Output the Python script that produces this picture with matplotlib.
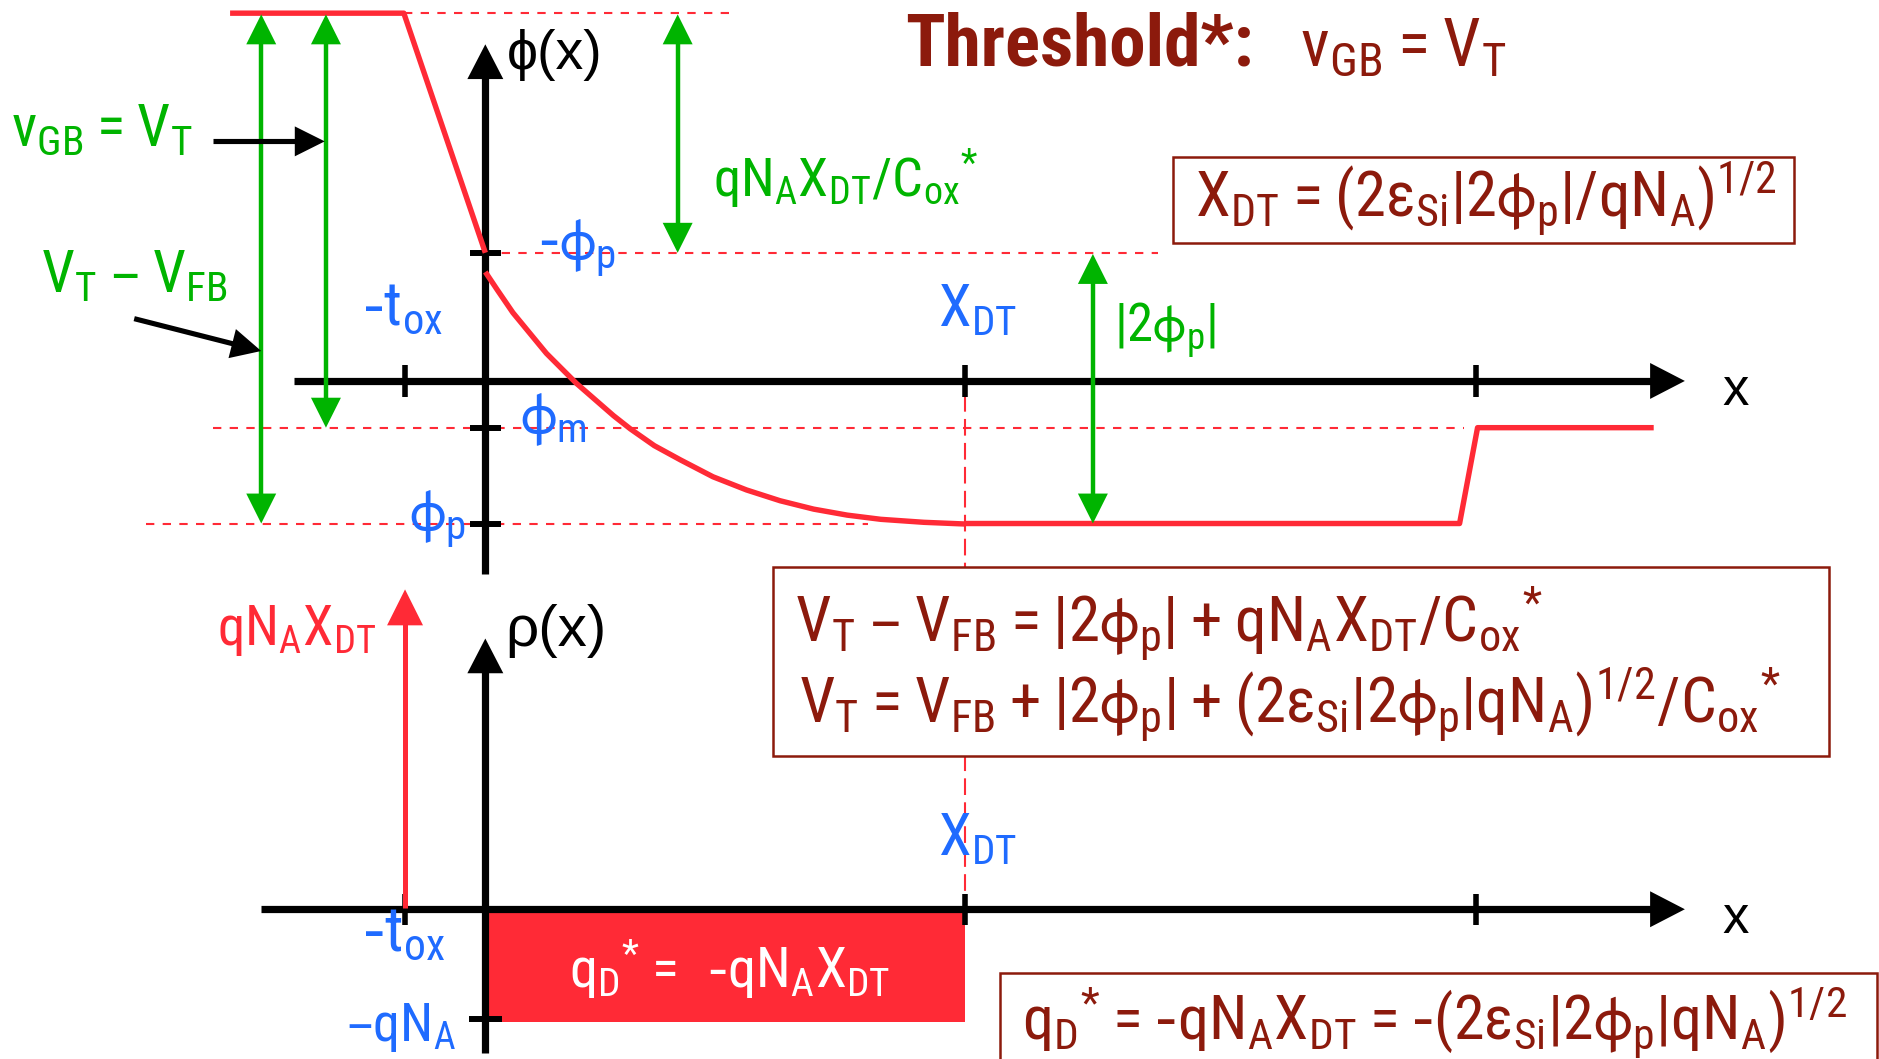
import numpy as np
import matplotlib
matplotlib.use('Agg')
import matplotlib.pyplot as plt
from matplotlib.patches import Polygon, Rectangle

NARROW = ['Roboto Condensed', 'DejaVu Sans Condensed', 'Liberation Sans', 'DejaVu Sans']
WIDE = ['Liberation Sans', 'DejaVu Sans']
plt.rcParams['font.family'] = NARROW
plt.rcParams['mathtext.fontset'] = 'dejavusans'
plt.rcParams['mathtext.default'] = 'regular'

RED = '#ff2a36'
GREEN = '#00b400'
BLUE = '#1f6bff'
DARK = '#8c1a0c'

# ---- diagram data (page units, y pointing down) ----
# marks on both x axes: -t_ox, 0, X_DT, end of body
x_marks = [338, 405, 805, 1232]
# levels on the phi(x) axis: gate, -phi_p, phi_m, phi_p
phi_levels = [11, 211, 357, 437]
phi_axis_y = 318
rho_axis_y = 759

# potential profile: gate/oxide, depletion region, neutral body
gate_x = [192, 337, 405]
gate_y = [11, 11, 211]
dep_x = [405, 415, 428, 442, 456, 481, 512, 526, 546, 568, 595, 623, 651,
         679, 707, 735, 771, 805]
dep_y = [227, 242, 261, 278, 295, 320, 347, 358, 372, 384, 398, 409, 418,
         425, 430, 433.5, 436, 437.4]
body_x = [805, 1218, 1233, 1380]
body_y = [437, 437, 357, 357]

# charge profile
gate_charge_tip = 492
depletion_level = 851

HY = r'\text{-}'


def head(ax, tip, d, color, length=29, width=30, z=5):
    d = np.array(d, float)
    d = d / np.hypot(*d)
    n = np.array([-d[1], d[0]])
    tip = np.array(tip, float)
    base = tip - length * d
    pts = [tip, base + n * width / 2, base - n * width / 2]
    ax.add_patch(Polygon(pts, closed=True, fc=color, ec='none', zorder=z))


def arrow(ax, p0, p1, color, lw, length=29, width=30, both=False, z=5):
    p0 = np.array(p0, float)
    p1 = np.array(p1, float)
    d = (p1 - p0) / np.hypot(*(p1 - p0))
    a = p0 + d * length * 0.5 if both else p0
    b = p1 - d * length * 0.5
    ax.plot([a[0], b[0]], [a[1], b[1]], color=color, lw=lw,
            solid_capstyle='butt', zorder=z)
    head(ax, p1, d, color, length, width, z)
    if both:
        head(ax, p0, -d, color, length, width, z)


def dashed(ax, xs, ys, dashes=(4, 4)):
    ax.plot(xs, ys, color=RED, lw=1.5, dashes=dashes, zorder=2)


fig = plt.figure(figsize=(18.79, 10.59), dpi=100)
ax = fig.add_axes([0, 0, 1, 1])
ax.set_xlim(0, 1568)
ax.set_ylim(884, 0)
ax.axis('off')

## dashed guide lines
dashed(ax, [337, 615], [phi_levels[0]] * 2)
dashed(ax, [405, 966], [phi_levels[1]] * 2)
dashed(ax, [178, 1222], [phi_levels[2]] * 2)
dashed(ax, [122, 724], [phi_levels[3]] * 2)
dashed(ax, [x_marks[2]] * 2, [330, 746], dashes=(8, 3.5))

## axes
axis_lw = 5.2
arrow(ax, (245, phi_axis_y), (1406, phi_axis_y), 'black', axis_lw, z=3)
arrow(ax, (x_marks[1], 479), (x_marks[1], 37), 'black', axis_lw, z=3)
arrow(ax, (218, rho_axis_y), (1406, rho_axis_y), 'black', axis_lw, z=3)
arrow(ax, (x_marks[1], 879), (x_marks[1], 533), 'black', axis_lw, z=3)

# ticks
for xm in [x_marks[0], x_marks[2], x_marks[3]]:
    ax.plot([xm, xm], [phi_axis_y - 13, phi_axis_y + 13], color='black',
            lw=4, solid_capstyle='butt', zorder=3)
    ax.plot([xm, xm], [rho_axis_y - 13, rho_axis_y + 13], color='black',
            lw=4, solid_capstyle='butt', zorder=3)
for yl in phi_levels[1:]:
    ax.plot([392, 418], [yl, yl], color='black', lw=4.3,
            solid_capstyle='butt', zorder=3)
ax.plot([391, 419], [depletion_level] * 2, color='black', lw=4.3,
        solid_capstyle='butt', zorder=3)

## potential profile
for xs, ys in [(gate_x, gate_y), (dep_x, dep_y), (body_x, body_y)]:
    ax.plot(xs, ys, color=RED, lw=3.9, solid_capstyle='butt',
            solid_joinstyle='round', zorder=4)

## charge profile
ax.add_patch(Rectangle((x_marks[1], rho_axis_y), x_marks[2] - x_marks[1],
                       depletion_level + 2 - rho_axis_y, fc=RED, ec='none',
                       zorder=2))
arrow(ax, (x_marks[0], rho_axis_y - 1), (x_marks[0], gate_charge_tip), RED,
      3.6, length=30, width=30, z=4)

## green voltage arrows
for gx, top, bot in [(218, 0, 3), (272, 0, 2), (565.5, 0, 1), (912, 1, 3)]:
    arrow(ax, (gx, phi_levels[top] + 1), (gx, phi_levels[bot]), GREEN, 3.2,
          length=25, width=25, both=True)

# black pointers
arrow(ax, (178, 118), (271, 118), 'black', 3.7, length=25, width=25)
arrow(ax, (112, 266), (218, 293), 'black', 3.7, length=25, width=25)

## boxes
boxes = [(979, 131, 518, 72), (645, 473.5, 881, 157.5), (834.5, 812, 732, 75)]
for bx, by, bw, bh in boxes:
    ax.add_patch(Rectangle((bx, by), bw, bh, fc='white', ec=DARK, lw=1.8,
                           zorder=6))

## texts: (text, x, baseline y, size, width on page, color, family, weight)
texts = [
    ('Threshold*:', 755, 55, 50, 291, DARK, NARROW, 'bold'),
    (r'$v_{GB}=V_T$', 1085, 55, 42, 177, DARK, NARROW, 'normal'),
    (r'$v_{GB}=V_T$', 9, 122, 37, 157, GREEN, NARROW, 'normal'),
    (r'$V_T\:–\:V_{FB}$', 34, 244, 38, 156, GREEN, NARROW, 'normal'),
    (r'$qN_AX_{DT}/C_{ox}{}^{*}$', 595, 164, 37, 222, GREEN, NARROW, 'normal'),
    (r'$|2ϕ_p|$', 930, 285, 38, None, GREEN, NARROW, 'normal'),
    ('ϕ(x)', 423, 58, 40, None, 'black', WIDE, 'normal'),
    ('ρ(x)', 422, 539, 42, None, 'black', WIDE, 'normal'),
    ('x', 1437, 338, 38, None, 'black', WIDE, 'normal'),
    ('x', 1437, 779, 38, None, 'black', WIDE, 'normal'),
    (r'$%st_{ox}$' % HY, 302, 271, 41, 68, BLUE, NARROW, 'normal'),
    (r'$%sϕ_p$' % HY, 449, 216, 42, None, BLUE, NARROW, 'normal'),
    (r'$ϕ_m$', 434, 362, 42, None, BLUE, NARROW, 'normal'),
    (r'$ϕ_p$', 341, 442, 42, None, BLUE, NARROW, 'normal'),
    (r'$X_{DT}$', 783, 273, 41, 66, BLUE, NARROW, 'normal'),
    (r'$X_{DT}$', 783, 714, 41, 66, BLUE, NARROW, 'normal'),
    (r'$%st_{ox}$' % HY, 302, 794, 41, 70, BLUE, NARROW, 'normal'),
    (r'$–qN_A$', 289, 869, 38, 92, BLUE, NARROW, 'normal'),
    (r'$qN_AX_{DT}$', 181, 538, 37, 133, RED, NARROW, 'normal'),
    (r'$q_D{}^{*}=\ %sqN_AX_{DT}$' % HY, 475, 825, 47, 268, 'white', NARROW, 'normal'),
    (r'$X_{DT}=(2ε_{Si}|2ϕ_p|/qN_A)^{1/2}$', 997, 181, 42, 486, DARK, NARROW, 'normal'),
    (r'$V_T\:–\:V_{FB}=|2ϕ_p|+qN_AX_{DT}/C_{ox}{}^{*}$', 663, 535.6, 43, 624, DARK, NARROW, 'normal'),
    (r'$V_T=V_{FB}+|2ϕ_p|+(2ε_{Si}|2ϕ_p|qN_A)^{1/2}/C_{ox}{}^{*}$', 667, 604, 43, 820, DARK, NARROW, 'normal'),
    (r'$q_D{}^{*}=%sqN_AX_{DT}=%s(2ε_{Si}|2ϕ_p|qN_A)^{1/2}$' % (HY, HY), 853, 869.5, 50, 689, DARK, NARROW, 'normal'),
]
handles = []
for s, x, y, size, w, col, fam, wt in texts:
    t = ax.text(x, y, s, fontsize=size, color=col, family=fam, fontweight=wt,
                ha='left', va='baseline', zorder=7)
    handles.append((t, size, w))

# squeeze or stretch texts to the width they take on the page
fig.canvas.draw()
renderer = fig.canvas.get_renderer()
px = fig.get_figwidth() * fig.dpi / 1568
for t, size, w in handles:
    if w is None:
        continue
    actual = t.get_window_extent(renderer).width
    f = min(max(w * px / actual, 0.7), 1.15)
    t.set_fontsize(size * f)

fig.savefig('out.png', dpi=100)
